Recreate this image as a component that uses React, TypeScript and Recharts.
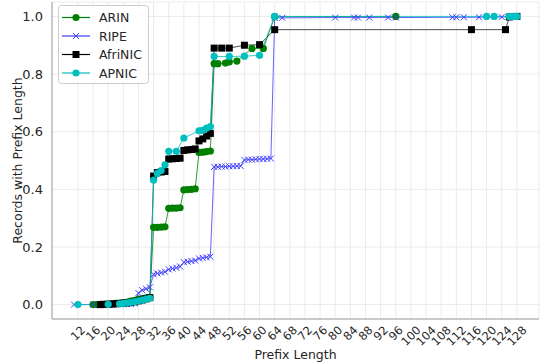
import React from "react";
import { CartesianGrid, Line, LineChart, XAxis, YAxis } from "recharts";

// prefix length CDF per RIR
const arinX = [16, 17, 18, 19, 20, 21, 22, 23, 24, 25, 26, 27, 28, 29, 30, 31, 32, 33, 34, 35, 36, 37, 38, 39, 40, 41, 42, 43, 44, 45, 46, 47, 48, 49, 51, 52, 54, 58, 61, 64, 96];
const arinY = [0, 0, 0.001, 0.001, 0.002, 0.003, 0.004, 0.005, 0.007, 0.009, 0.012, 0.015, 0.019, 0.021, 0.023, 0.025, 0.268, 0.268, 0.269, 0.27, 0.334, 0.335, 0.335, 0.336, 0.398, 0.399, 0.4, 0.402, 0.528, 0.529, 0.531, 0.533, 0.836, 0.836, 0.838, 0.842, 0.845, 0.889, 0.889, 0.999, 1.0];

const ripeX = [11, 16, 19, 20, 21, 22, 23, 24, 25, 26, 27, 28, 29, 30, 31, 32, 33, 34, 35, 36, 37, 38, 39, 40, 41, 42, 43, 44, 45, 46, 47, 48, 49, 50, 51, 52, 53, 54, 55, 56, 57, 58, 59, 60, 61, 62, 63, 64, 66, 80, 85, 86, 89, 94, 96, 111, 112, 114, 118, 124, 128];
const ripeY = [0, 0, 0, 0, 0, 0.001, 0.001, 0.001, 0.002, 0.002, 0.004, 0.04, 0.05, 0.055, 0.06, 0.105, 0.108, 0.111, 0.114, 0.122, 0.125, 0.128, 0.132, 0.147, 0.149, 0.151, 0.153, 0.16, 0.162, 0.164, 0.166, 0.478, 0.478, 0.479, 0.479, 0.48, 0.48, 0.481, 0.481, 0.502, 0.503, 0.503, 0.504, 0.505, 0.505, 0.506, 0.507, 0.995, 0.995, 0.996, 0.996, 0.996, 0.996, 0.996, 0.996, 0.997, 0.997, 0.997, 0.997, 0.998, 1.0];

const afrinicX = [18, 19, 20, 21, 22, 23, 24, 25, 26, 27, 28, 29, 30, 31, 32, 33, 34, 35, 36, 37, 38, 39, 40, 41, 42, 43, 44, 45, 46, 47, 48, 50, 52, 56, 60, 64, 116, 125, 126, 128];
const afrinicY = [0, 0.001, 0.001, 0.002, 0.003, 0.004, 0.005, 0.006, 0.008, 0.01, 0.013, 0.016, 0.02, 0.024, 0.446, 0.458, 0.46, 0.462, 0.505, 0.506, 0.507, 0.508, 0.535, 0.537, 0.538, 0.54, 0.568, 0.575, 0.585, 0.594, 0.89, 0.89, 0.89, 0.9, 0.902, 0.954, 0.954, 0.954, 0.998, 1.0];

const apnicX = [12, 20, 23, 24, 25, 26, 27, 28, 29, 30, 31, 32, 33, 34, 35, 36, 38, 40, 44, 45, 46, 47, 48, 52, 56, 60, 64, 120, 122, 126, 127, 128];
const apnicY = [0, 0.001, 0.003, 0.004, 0.006, 0.008, 0.01, 0.013, 0.016, 0.019, 0.022, 0.432, 0.455, 0.465, 0.485, 0.532, 0.532, 0.578, 0.603, 0.605, 0.612, 0.618, 0.861, 0.861, 0.862, 0.865, 1.0, 1.0, 1.0, 1.0, 1.0, 1.0];

const xTicks = [12, 16, 20, 24, 28, 32, 36, 40, 44, 48, 52, 56, 60, 64, 68, 72, 76, 80, 84, 88, 92, 96, 100, 104, 108, 112, 116, 120, 124, 128];
const yTicks = [0, 0.2, 0.4, 0.6, 0.8, 1.0];

const zip = (xs: number[], ys: number[]) => xs.map((x, i) => ({ x, y: ys[i] }));

const FONT = "DejaVu Sans, sans-serif";
const TEXT = "#262626";
const GREEN = "#008000";
const BLUE = "#3d3dff";
const CYAN = "#00bfbf";
const PLOT_BOTTOM = 319;

const circleDot = (color: string) => (props: any) => (
  <circle key={`c-${props.index}`} cx={props.cx} cy={props.cy} r={3.6} fill={color} />
);
const squareDot = (props: any) => (
  <rect key={`s-${props.index}`} x={props.cx - 3.5} y={props.cy - 3.5} width={7} height={7} fill="#000" />
);
const crossDot = (props: any) => (
  <g key={`x-${props.index}`} stroke={BLUE} strokeWidth={1}>
    <line x1={props.cx - 3} y1={props.cy - 3} x2={props.cx + 3} y2={props.cy + 3} />
    <line x1={props.cx - 3} y1={props.cy + 3} x2={props.cx + 3} y2={props.cy - 3} />
  </g>
);

// matplotlib-like rotated tick labels (rotation=45, centred under the tick)
const XTick = (props: any) => {
  const { x, payload } = props;
  const label = String(payload.value);
  const w = label.length * 7.3;
  const h = (w + 11.5) * 0.707;
  const cy = PLOT_BOTTOM + 5 + h / 2;
  return (
    <text
      x={x}
      y={cy}
      textAnchor="middle"
      dominantBaseline="central"
      transform={`rotate(-45, ${x}, ${cy})`}
      fontSize={11.5}
      fontFamily={FONT}
      fill={TEXT}
    >
      {label}
    </text>
  );
};

const legendItems = [
  { name: "ARIN", color: GREEN, kind: "circle" },
  { name: "RIPE", color: BLUE, kind: "x" },
  { name: "AfriNIC", color: "#000", kind: "square" },
  { name: "APNIC", color: CYAN, kind: "circle" },
];

const LegendBox = () => (
  <g transform="translate(58, 5)">
    <rect x={0.5} y={0.5} width={90} height={78} rx={3} fill="white" fillOpacity={0.8} stroke="#cccccc" />
    {legendItems.map((it, i) => {
      const cy = 12.5 + i * 18.5;
      return (
        <g key={it.name}>
          <line x1={4} x2={32} y1={cy} y2={cy} stroke={it.color} strokeWidth={1.2} />
          {it.kind === "circle" && <circle cx={18} cy={cy} r={3.6} fill={it.color} />}
          {it.kind === "square" && <rect x={14.5} y={cy - 3.5} width={7} height={7} fill="#000" />}
          {it.kind === "x" && (
            <g stroke={it.color}>
              <line x1={15} y1={cy - 3} x2={21} y2={cy + 3} />
              <line x1={15} y1={cy + 3} x2={21} y2={cy - 3} />
            </g>
          )}
          <text x={41} y={cy} dominantBaseline="central" fontSize={12.5} fontFamily={FONT} fill={TEXT}>
            {it.name}
          </text>
        </g>
      );
    })}
  </g>
);

export default function App() {
  return (
    <div style={{ position: "relative", width: 541, height: 363, background: "#fff" }}>
      <style>{"body{margin:0}"}</style>
      <LineChart width={541} height={363} margin={{ top: 2, right: 2, left: 8, bottom: 0 }}>
        <CartesianGrid stroke="#ebebeb" strokeWidth={1} />
        <XAxis
          dataKey="x"
          type="number"
          domain={[5.15, 133.85]}
          ticks={xTicks}
          interval={0}
          height={44}
          tick={<XTick />}
          tickLine={false}
          axisLine={{ stroke: "#9e9e9e" }}
          allowDuplicatedCategory={false}
        />
        <YAxis
          type="number"
          domain={[-0.05, 1.05]}
          ticks={yTicks}
          width={44}
          tickFormatter={(v: number) => v.toFixed(1)}
          tick={{ fontSize: 13, fontFamily: FONT, fill: TEXT }}
          tickLine={false}
          tickMargin={3}
          axisLine={{ stroke: "#9e9e9e" }}
        />
        <Line data={zip(arinX, arinY)} dataKey="y" name="ARIN" type="linear" stroke={GREEN} strokeOpacity={0.8} strokeWidth={1} dot={circleDot(GREEN)} activeDot={false} isAnimationActive={false} />
        <Line data={zip(ripeX, ripeY)} dataKey="y" name="RIPE" type="linear" stroke={BLUE} strokeOpacity={0.8} strokeWidth={1} dot={crossDot} activeDot={false} isAnimationActive={false} />
        <Line data={zip(afrinicX, afrinicY)} dataKey="y" name="AfriNIC" type="linear" stroke="#000" strokeOpacity={0.7} strokeWidth={1} dot={squareDot} activeDot={false} isAnimationActive={false} />
        <Line data={zip(apnicX, apnicY)} dataKey="y" name="APNIC" type="linear" stroke={CYAN} strokeOpacity={0.8} strokeWidth={1} dot={circleDot(CYAN)} activeDot={false} isAnimationActive={false} />
      </LineChart>
      <svg width={541} height={363} style={{ position: "absolute", left: 0, top: 0, pointerEvents: "none" }}>
        <LegendBox />
        <text x={295.5} y={359} textAnchor="middle" fontSize={12.5} fontFamily={FONT} fill={TEXT}>
          Prefix Length
        </text>
        <text
          x={22}
          y={160.5}
          textAnchor="middle"
          transform="rotate(-90, 22, 160.5)"
          fontSize={12.5}
          fontFamily={FONT}
          fill={TEXT}
        >
          Records with Prefix Length
        </text>
      </svg>
    </div>
  );
}
